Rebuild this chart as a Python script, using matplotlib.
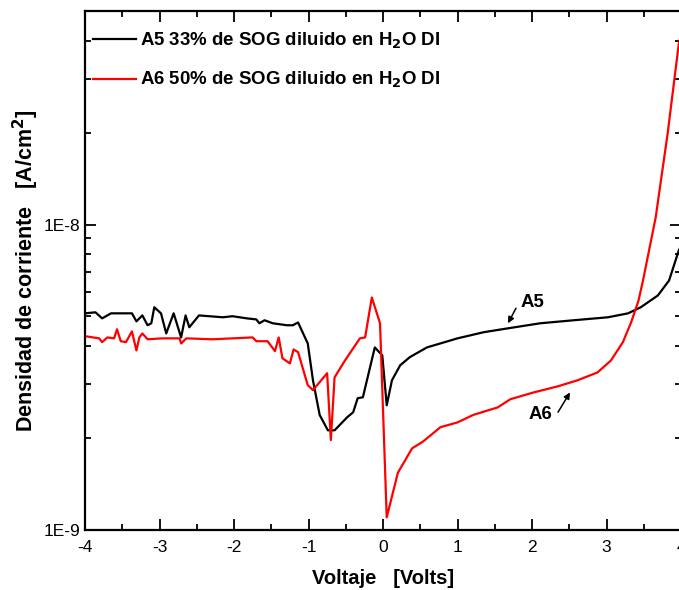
import math
import matplotlib.pyplot as plt
from matplotlib.ticker import LogLocator, MultipleLocator, FuncFormatter, NullFormatter

plt.rcParams['font.family'] = ['Liberation Sans', 'DejaVu Sans']

# A5: 33% SOG, densidad de corriente (x1e-9 A/cm2)
v_a5 = [-4.0, -3.86, -3.77, -3.65, -3.37, -3.31, -3.23, -3.16, -3.11, -3.07,
        -2.98, -2.91, -2.81, -2.71, -2.65, -2.60, -2.47, -2.15, -2.02, -1.83,
        -1.70, -1.66, -1.59, -1.48, -1.29, -1.21, -1.14, -1.01, -0.94, -0.85,
        -0.74, -0.65, -0.48, -0.40, -0.34, -0.27, -0.11, -0.01, 0.05, 0.12,
        0.23, 0.36, 0.59, 1.00, 1.35, 1.67, 2.11, 2.56, 3.02, 3.29,
        3.46, 3.69, 3.84, 3.97, 4.0]
j_a5 = [5.12, 5.16, 4.93, 5.12, 5.12, 4.82, 5.04, 4.68, 4.75, 5.36,
        5.12, 4.40, 5.12, 4.27, 5.04, 4.61, 5.04, 4.97, 5.01, 4.93,
        4.89, 4.75, 4.86, 4.75, 4.68, 4.68, 4.78, 4.08, 3.09, 2.38,
        2.12, 2.12, 2.34, 2.43, 2.70, 2.72, 3.96, 3.73, 2.56, 3.09,
        3.46, 3.68, 3.96, 4.24, 4.44, 4.57, 4.75, 4.86, 4.97, 5.12,
        5.36, 5.86, 6.56, 8.22, 8.5]

# A6: 50% SOG
v_a6 = [-4.0, -3.81, -3.77, -3.70, -3.61, -3.57, -3.52, -3.45, -3.37, -3.31,
        -3.27, -3.23, -3.16, -2.96, -2.73, -2.71, -2.64, -2.29, -1.75, -1.70,
        -1.55, -1.45, -1.40, -1.35, -1.25, -1.20, -1.14, -1.01, -0.94, -0.75,
        -0.70, -0.65, -0.51, -0.31, -0.24, -0.15, -0.04, 0.05, 0.20, 0.39,
        0.54, 0.77, 1.00, 1.21, 1.54, 1.71, 2.02, 2.34, 2.61, 2.88,
        3.06, 3.22, 3.33, 3.43, 3.49, 3.66, 3.82, 3.97, 4.0]
j_a6 = [4.31, 4.24, 4.12, 4.27, 4.24, 4.54, 4.15, 4.12, 4.47, 3.87,
        4.27, 4.40, 4.21, 4.24, 4.24, 4.08, 4.24, 4.21, 4.27, 4.15,
        4.15, 3.85, 4.27, 3.65, 3.51, 3.90, 3.82, 2.98, 2.87, 3.26,
        1.97, 3.16, 3.59, 4.24, 4.27, 5.77, 4.75, 1.10, 1.54, 1.85,
        1.95, 2.17, 2.25, 2.38, 2.52, 2.68, 2.82, 2.95, 3.09, 3.28,
        3.59, 4.12, 4.78, 5.64, 6.56, 10.54, 19.8, 39.0, 42.0]

j_a5 = [j * 1e-9 for j in j_a5]
j_a6 = [j * 1e-9 for j in j_a6]

fig = plt.figure(figsize=(6.79, 5.90), dpi=100)
ax = fig.add_axes([85 / 679, 60 / 590, 596 / 679, 519 / 590])

ax.plot(v_a5, j_a5, color='black', lw=1.6, label='A5 33% de SOG diluido en H$_\\mathbf{2}$O DI')
ax.plot(v_a6, j_a6, color='red', lw=1.6, label='A6 50% de SOG diluido en H$_\\mathbf{2}$O DI')

ax.set_yscale('log')
ax.set_xlim(-4, 4)
ax.set_ylim(1e-9, 5e-8)

ax.xaxis.set_major_locator(MultipleLocator(1))
ax.xaxis.set_minor_locator(MultipleLocator(0.5))
ax.xaxis.set_major_formatter(FuncFormatter(lambda x, p: '%d' % round(x)))
ax.yaxis.set_major_locator(LogLocator(base=10))
ax.yaxis.set_minor_locator(LogLocator(base=10, subs=range(2, 10)))
ax.yaxis.set_major_formatter(FuncFormatter(lambda y, p: '1E%d' % round(math.log10(y))))
ax.yaxis.set_minor_formatter(NullFormatter())

ax.tick_params(which='both', direction='in', top=True, right=True, width=1.3, labelsize=12.5)
ax.tick_params(which='major', length=8)
ax.tick_params(which='minor', length=4.5)
ax.tick_params(axis='x', pad=7)
for s in ax.spines.values():
    s.set_linewidth(1.6)
# el borde derecho queda fuera de la imagen en el original
ax.spines['right'].set_visible(False)

ax.set_xlabel('Voltaje   [Volts]', fontsize=14.5, fontweight='bold', labelpad=10)
ax.set_ylabel('Densidad de corriente   [A/cm$^\\mathbf{2}$]', fontsize=15.5, fontweight='bold', labelpad=1.5)

ax.legend(loc='upper left', bbox_to_anchor=(0.0134, 0.963), frameon=False,
          prop={'size': 13.4, 'weight': 'bold'}, borderaxespad=0, borderpad=0,
          handlelength=2.3, labelspacing=1.05, handletextpad=0.25)

# etiquetas con flechas
ax.text(2.0, 5.56e-9, 'A5', fontsize=13.4, fontweight='bold', ha='center', va='center')
ax.annotate('', xy=(1.678, 4.75e-9), xytext=(1.785, 5.32e-9),
            arrowprops=dict(arrowstyle='-|>', color='black', lw=1.1, mutation_scale=9,
                            shrinkA=0, shrinkB=0))
ax.text(2.107, 2.38e-9, 'A6', fontsize=13.4, fontweight='bold', ha='center', va='center')
ax.annotate('', xy=(2.51, 2.82e-9), xytext=(2.349, 2.43e-9),
            arrowprops=dict(arrowstyle='-|>', color='black', lw=1.1, mutation_scale=9,
                            shrinkA=0, shrinkB=0))

fig.savefig('out.png', dpi=100)
